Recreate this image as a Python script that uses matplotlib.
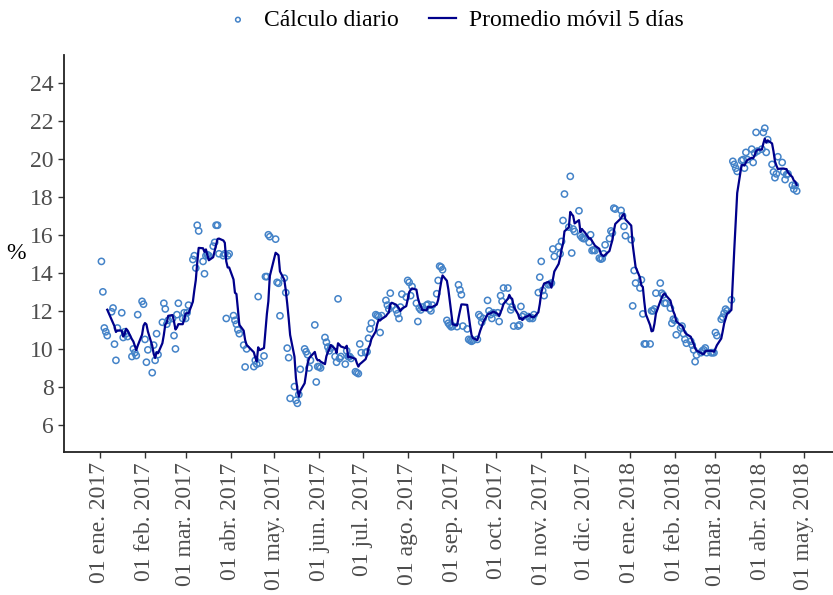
import matplotlib
matplotlib.use("Agg")
import matplotlib.pyplot as plt
import matplotlib.dates as mdates
import pandas as pd

# Cálculo diario, un valor por día hábil, por mes
ene17 = [14.6, 13.0, 11.1, 10.9, 10.7, 11.95, 12.15, 10.25, 9.4, 11.1, 11.9, 10.6, 10.9, 10.8, 10.65,
         9.6, 10.0, 9.8, 9.65, 11.8, 12.5, 12.35]
feb17 = [10.5, 9.3, 9.95, 8.75, 10.2, 9.4, 10.8, 9.7, 11.4, 12.4, 12.1, 11.3, 11.5, 11.6, 10.7, 10.0,
         11.8, 12.4, 11.6, 11.9]
mar17 = [11.6, 11.9, 12.3, 14.7, 14.9, 14.25, 16.5, 16.2, 14.6, 13.95, 14.9, 14.95, 14.9, 15.4, 15.6,
         16.5, 16.5, 15.0, 14.9, 15.0, 11.6, 14.9, 15.0]
abr17 = [11.75, 11.5, 11.3, 11.0, 10.8, 10.2, 9.05, 10.0, 9.07, 9.4, 9.2, 12.75, 9.25, 9.63, 13.8, 13.8,
         16.0, 15.9]
may17 = [15.77, 13.5, 13.45, 11.74, 13.72, 12.96, 10.04, 9.54, 7.4, 8.02, 7.3, 7.14, 7.6, 8.93, 10.0,
         9.85, 9.7, 9.0, 9.4, 11.26, 8.26, 9.07]
jun17 = [9.07, 9.0, 10.6, 10.35, 10.1, 9.9, 10.05, 9.6, 9.3, 12.63, 9.5, 9.6, 9.2, 9.9, 9.6, 9.6, 9.5,
         8.8, 8.75, 8.7, 10.26, 9.8]
jul17 = [9.8, 9.85, 10.56, 11.05, 11.36, 11.8, 11.75, 11.7, 10.86, 11.75, 12.55, 12.3, 12.1, 12.93,
         12.25, 12.05, 11.85, 11.6, 12.2, 12.88, 12.72]
ago17 = [13.6, 13.5, 12.8, 13.28, 12.4, 11.44, 12.15, 12.05, 12.2, 12.3, 12.35, 12.1, 12.0, 12.3, 12.9,
         13.6, 14.35, 14.3, 14.16, 11.5, 11.35, 11.25, 11.16]
sep17 = [11.2, 11.17, 13.37, 13.1, 12.85, 11.2, 11.05, 10.5, 10.45, 10.4, 10.45, 10.5, 11.8, 11.7, 11.4,
         11.6, 12.55, 12.0, 11.8, 11.6, 11.9]
oct17 = [11.9, 11.44, 12.8, 12.5, 13.2, 13.2, 12.5, 12.05, 12.2, 11.2, 11.2, 11.26, 12.23, 11.7, 11.8,
         11.7, 11.6, 11.65, 11.6, 11.8, 12.96, 13.77]
nov17 = [14.6, 13.07, 12.8, 13.37, 13.4, 13.46, 15.25, 14.86, 15.37, 15.0, 15.65, 16.75, 18.14, 16.4,
         19.07, 15.04, 16.3, 16.17, 17.26, 15.95, 15.85, 15.8]
dic17 = [15.8, 15.6, 16.0, 15.17, 15.2, 15.17, 14.77, 14.72, 14.75, 15.0, 15.47, 15.8, 16.2, 16.1, 17.4,
         17.35, 17.28, 17.0, 16.44, 15.95]
ene18 = [15.74, 12.26, 14.12, 13.46, 13.2, 13.63, 11.84, 10.26, 10.26, 10.26, 12.0, 12.0, 12.1, 12.93,
         13.46, 12.93, 12.84, 12.4, 12.4, 12.14, 11.35, 11.56]
feb18 = [11.5, 10.74, 11.1, 11.2, 10.8, 10.5, 10.3, 10.4, 10.2, 9.95, 9.33, 9.68, 9.8, 9.9, 9.95, 10.05,
         9.8, 9.8, 9.8, 9.8]
mar18 = [10.86, 10.7, 11.56, 11.67, 11.88, 12.09, 12.0, 12.58, 19.86, 19.7, 19.5, 19.33, 19.9, 19.95,
         19.5, 20.33, 19.95, 20.5, 19.8, 20.3, 21.38, 20.4]
abr18 = [20.5, 21.38, 21.6, 20.33, 21.0, 19.7, 19.3, 19.0, 19.2, 20.1, 19.8, 19.3, 18.9, 19.16, 19.2,
         18.6, 18.4, 18.6, 18.3]

feriados = pd.to_datetime(["2017-04-13", "2017-04-14", "2017-05-01", "2017-12-25", "2018-01-01"])
fechas = pd.bdate_range("2017-01-02", "2018-04-26").difference(feriados)
valores = (ene17 + feb17 + mar17 + abr17 + may17 + jun17 + jul17 + ago17 + sep17 + oct17 + nov17
           + dic17 + ene18 + feb18 + mar18 + abr18)

serie = pd.Series(valores, index=fechas)
promedio = serie.rolling(5).mean()

meses = ["ene.", "feb.", "mar.", "abr.", "may.", "jun.", "jul.", "ago.", "sep.", "oct.", "nov.", "dic."]
ticks = pd.date_range("2017-01-01", "2018-05-01", freq="MS")
tick_labels = ["01 %s %d" % (meses[t.month - 1], t.year) for t in ticks]

plt.rcParams["font.family"] = ["Liberation Serif", "DejaVu Serif"]

fig = plt.figure(figsize=(8.33, 5.95), dpi=100)
ax = fig.add_axes([0.0768, 0.2403, 0.9232, 0.6673])

ax.scatter(serie.index, serie.values, s=20, facecolors="none", edgecolors="#4483c8",
           linewidths=1.1, label="Cálculo diario", zorder=2)
ax.plot(promedio.index, promedio.values, color="#00008b", lw=1.6,
        label="Promedio móvil 5 días", zorder=3)

d0 = mdates.date2num(pd.Timestamp("2017-01-01"))
ax.set_xlim(d0 - 24.8, d0 + 505)
ax.set_ylim(4.58, 25.45)

ax.set_xticks(ticks)
ax.set_xticklabels(tick_labels, rotation=90, fontsize=17, color="#4d4d4d")
ax.set_yticks(range(6, 25, 2))
ax.tick_params(axis="y", labelsize=17, labelcolor="#4d4d4d")
ax.tick_params(length=4, width=1, color="#333333")

for s in ["top", "right"]:
    ax.spines[s].set_visible(False)
for s in ["left", "bottom"]:
    ax.spines[s].set_color("#222222")
    ax.spines[s].set_linewidth(1.3)

ax.set_ylabel("%", rotation=0, fontsize=17, va="center", ha="center")
ax.yaxis.set_label_coords(-0.063, 0.5)

fig.legend(loc="upper center", bbox_to_anchor=(0.545, 1.02), ncol=2, frameon=False, fontsize=17,
           handlelength=1.15, handletextpad=0.55, columnspacing=1.25, markerscale=0.75)

fig.savefig("out.png", dpi=100)
